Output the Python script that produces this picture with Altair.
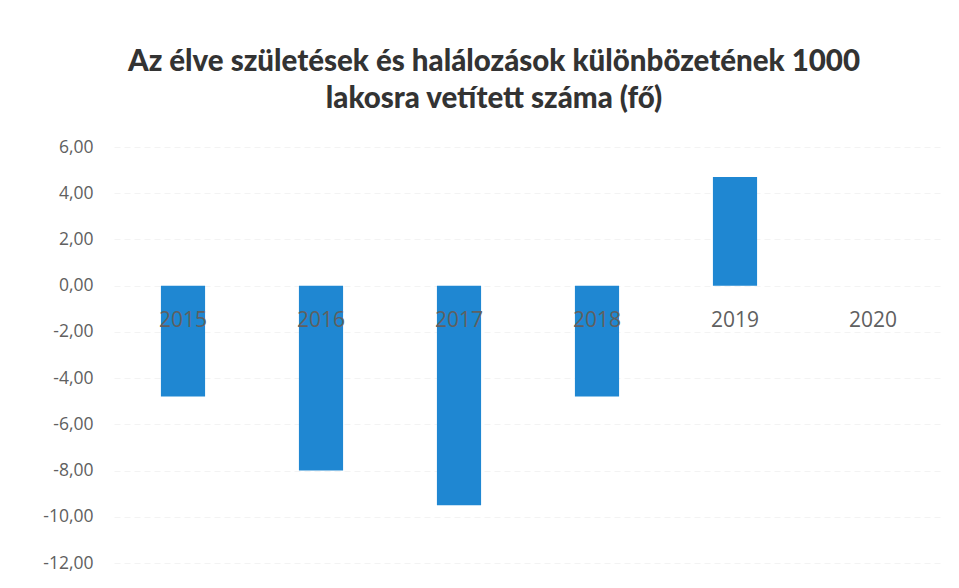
import altair as alt
import pandas as pd

years = ["2015", "2016", "2017", "2018", "2019", "2020"]
values = [-4.8, -8.0, -9.5, -4.8, 4.7, 0.0]
y_ticks = [6, 4, 2, 0, -2, -4, -6, -8, -10, -12]
title_lines = ["Az élve születések és halálozások különbözetének 1000",
               "lakosra  vetített száma (fő)"]

df = pd.DataFrame({"year": years, "value": values, "zero": [0.0] * len(years)})

x_enc = alt.X("year:N", sort=years, axis=None,
              scale=alt.Scale(paddingInner=0.68, paddingOuter=0.34))
y_scale = alt.Scale(domain=[-12, 6], nice=False, zero=False)

bars = alt.Chart(df).mark_bar(color="#1f87d2").encode(
    x=x_enc,
    y=alt.Y("value:Q", scale=y_scale, title=None,
            axis=alt.Axis(values=y_ticks, domain=False, ticks=False,
                          labelExpr="replace(replace(format(datum.value, '.2f'), '.', ','), '−', '-')",
                          labelFont="Open Sans", labelFontSize=17.5, labelColor="#606060",
                          labelPadding=21, grid=True, gridColor="#f3f3f3",
                          gridDash=[6, 4], gridWidth=1)),
    y2="zero:Q",
)

labels = alt.Chart(df).mark_text(font="Open Sans", fontSize=21, color="#606060",
                                 baseline="middle", dy=35).encode(
    x=x_enc,
    y=alt.Y("zero:Q", scale=y_scale),
    text="year:N",
)

chart = alt.layer(bars, labels).properties(
    width=828, height=416,
    autosize=alt.AutoSizeParams(type="none"),
    padding={"left": 114, "top": 147, "right": 17, "bottom": 25},
    background="white",
    title=alt.Title(title_lines, font="Lato", fontSize=29.5, fontWeight=900,
                    color="#333333", lineHeight=37, offset=24, dx=-34, anchor="middle"),
).configure_view(strokeWidth=0)

chart.save("out.html", embed_options={"renderer": "svg", "actions": False})
